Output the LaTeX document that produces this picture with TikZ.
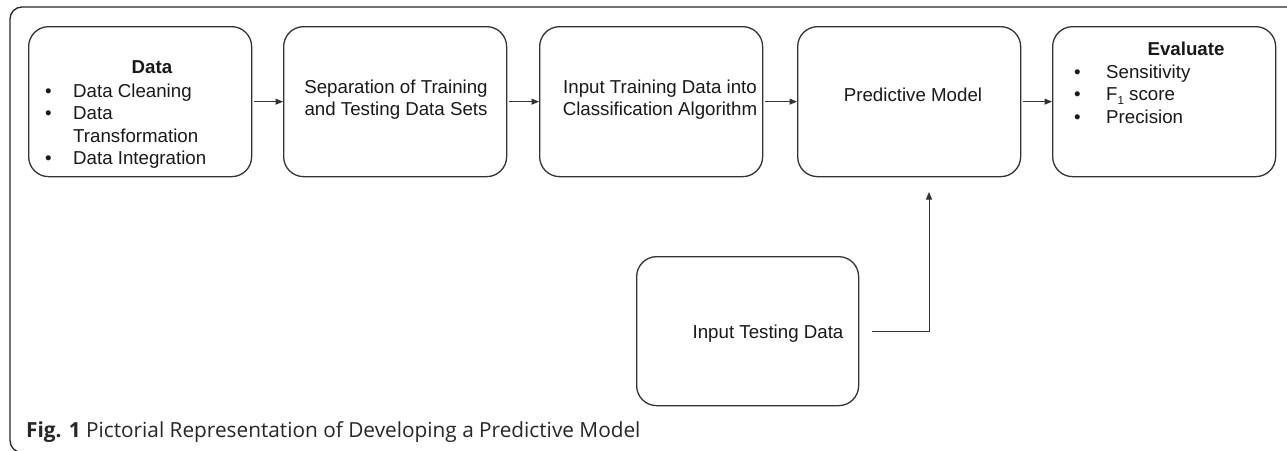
\documentclass[tikz,border=0pt]{standalone}
\usepackage{fontspec}
\setmainfont{Liberation Sans}
\newfontfamily\capfont{Open Sans}
\usetikzlibrary{arrows.meta}
\begin{document}
\begin{tikzpicture}[x=1pt,y=-1pt,
  box/.style={draw=black!80, line width=1.3pt, rounded corners=20pt, minimum width=223pt, minimum height=150pt, inner sep=0pt, anchor=north west},
  txt/.style={font=\fontsize{18.7}{22.4}\selectfont, inner sep=0pt, text=black!90},
  conn/.style={draw=black!80, line width=1pt, -{Triangle[length=7.5pt,width=6pt]}},
  frame/.style={draw=black!85, line width=1.3pt, rounded corners=12pt}
  ]
\useasboundingbox (0,0) rectangle (1287,450);
\begin{scope}
\clip (0,0) rectangle (1287,450);
\draw[frame] (1300,7) -- (10,7) -- (10,452.5) -- (1300,452.5);
\end{scope}

% boxes
\node[box] (b1) at (28,26) {};
\node[box] (b2) at (283,26) {};
\node[box] (b3) at (539,26) {};
\node[box] (b4) at (797,26) {};
\node[box] (b5) at (1052,26) {};
\node[box, minimum width=222pt, minimum height=149pt] (bt) at (636,256) {};

% box 1 text
\node[txt, anchor=base, font=\fontsize{18.7}{22.4}\selectfont\bfseries] (b1h) at (152,73) {Data};
\node[txt, anchor=base west] (b1p1) at (45,97) {\textbullet};
\node[txt, anchor=base west] (b1l1) at (73,97) {Data Cleaning};
\node[txt, anchor=base west] (b1p2) at (45,119.5) {\textbullet};
\node[txt, anchor=base west] (b1l2) at (73,119.5) {Data};
\node[txt, anchor=base west] (b1l3) at (73,142) {Transformation};
\node[txt, anchor=base west] (b1p4) at (45,164) {\textbullet};
\node[txt, anchor=base west] (b1l4) at (73,164) {Data Integration};

% box 2 text
\node[txt, anchor=base] (b2l1) at (396,93) {Separation of Training};
\node[txt, anchor=base] (b2l2) at (396,115) {and Testing Data Sets};

% box 3 text
\node[txt, anchor=base] (b3l1) at (660,93) {Input Training Data into};
\node[txt, anchor=base] (b3l2) at (660,115) {Classification Algorithm};

% box 4 text
\node[txt, anchor=base] (b4l1) at (913,101) {Predictive Model};

% box 5 text
\node[txt, anchor=base, font=\fontsize{18.7}{22.4}\selectfont\bfseries] (b5h) at (1186,55) {Evaluate};
\node[txt, anchor=base west] (b5p1) at (1074,78) {\textbullet};
\node[txt, anchor=base west] (b5l1) at (1106,78) {Sensitivity};
\node[txt, anchor=base west] (b5p2) at (1074,100.5) {\textbullet};
\node[txt, anchor=base west] (b5l2) at (1106,100.5) {F\raisebox{-0.22em}{\fontsize{11.5}{12}\selectfont 1} score};
\node[txt, anchor=base west] (b5p3) at (1074,123) {\textbullet};
\node[txt, anchor=base west] (b5l3) at (1106,123) {Precision};

% bottom box text
\node[txt, anchor=base] (btl) at (768,338) {Input Testing Data};

% connectors
\draw[conn, shorten <=2pt] (b1.east) -- (b2.west);
\draw[conn, shorten <=2pt] (b2.east) -- (b3.west);
\draw[conn, shorten <=2pt] (b3.east) -- (b4.west);
\draw[conn, shorten <=2pt] (b4.east) -- (b5.west);
\coordinate (up) at (929,192);
\draw[conn, shorten <=13pt] (bt.east) -| (up);

% caption
\node[anchor=base west, inner sep=0pt, text=black!85, font=\capfont\fontsize{20.8}{24}\selectfont] (cap) at (26,437) {\textbf{Fig. 1} Pictorial Representation of Developing a Predictive Model};
\end{tikzpicture}
\end{document}
